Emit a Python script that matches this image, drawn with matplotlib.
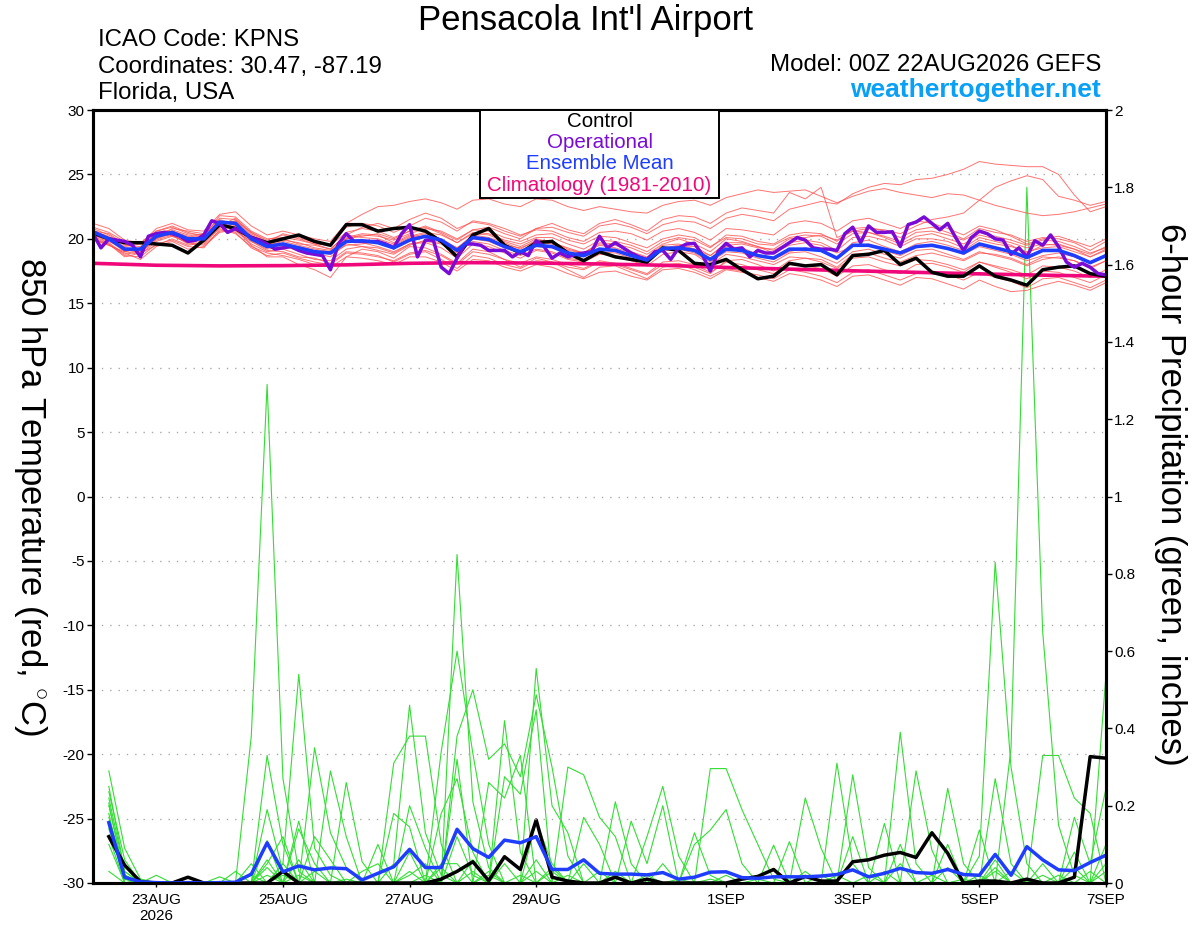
import matplotlib
matplotlib.use("Agg")
import matplotlib.pyplot as plt
from matplotlib.patches import Rectangle
import pandas as pd

plt.rcParams['font.family'] = ['Liberation Sans', 'DejaVu Sans']
plt.rcParams['axes.unicode_minus'] = False
plt.rcParams['mathtext.fontset'] = 'custom'
plt.rcParams['mathtext.rm'] = 'Liberation Sans'

# ---- time axes (GEFS 00Z 22AUG2026 run) ----
t_temp = pd.date_range('2026-08-22 00:00', periods=65, freq='6h')
t_oper = pd.date_range('2026-08-22 00:00', periods=129, freq='3h')
t_prcp = pd.date_range('2026-08-22 06:00', periods=64, freq='6h')
t_clim = pd.date_range('2026-08-22 00:00', periods=17, freq='1D')

# ---- 850 hPa temperature (C) ----
control_temp = [20.45, 20.0, 19.7, 19.7, 19.6, 19.5, 18.9, 19.9,
                21.1, 20.8, 20.1, 19.7, 20.0, 20.3, 19.8, 19.5,
                21.1, 21.1, 20.6, 20.8, 20.9, 20.6, 19.8, 18.6,
                20.3, 20.8, 19.5, 18.9, 19.7, 19.8, 18.9, 18.3,
                19.0, 18.6, 18.4, 18.2, 19.3, 19.1, 18.1, 18.0,
                18.4, 17.6, 16.9, 17.1, 18.1, 17.9, 18.0, 17.2,
                18.7, 18.8, 19.1, 18.0, 18.5, 17.4, 17.1, 17.1,
                17.9, 17.1, 16.8, 16.4, 17.6, 17.8, 17.9, 17.3,
                17.1]

oper_temp = [20.4, 19.3, 20.0, 19.9, 19.8, 19.5, 18.6, 20.2,
             20.4, 20.5, 20.4, 20.2, 19.8, 19.9, 20.3, 21.4,
             21.2, 20.5, 20.8, 20.5, 20.1, 19.9, 19.6, 19.2,
             19.3, 19.4, 19.1, 18.9, 18.8, 18.7, 17.6, 19.6,
             20.4, 19.8, 19.8, 19.8, 19.8, 19.6, 19.3, 20.4,
             21.1, 18.6, 19.9, 19.9, 17.8, 17.3, 18.5, 19.6,
             19.6, 19.5, 19.1, 19.1, 19.1, 18.6, 19.0, 18.7,
             19.85, 19.4, 18.5, 18.9, 18.6, 18.8, 18.9, 19.0,
             20.2, 19.3, 19.7, 19.3, 18.9, 18.6, 18.4, 19.0,
             19.1, 18.4, 19.3, 19.6, 19.65, 18.75, 17.5, 19.0,
             19.65, 19.2, 19.3, 18.6, 19.1, 18.9, 18.9, 19.3,
             19.7, 20.1, 19.9, 19.3, 19.2, 19.2, 19.1, 20.4,
             20.9, 19.7, 21.0, 20.5, 20.5, 20.55, 19.4, 21.1,
             21.3, 21.7, 21.2, 20.7, 21.2, 20.1, 19.1, 20.1,
             20.6, 20.4, 20.0, 19.9, 18.8, 19.3, 18.6, 19.85,
             19.5, 20.3, 19.4, 18.2, 17.8, 18.1, 17.8, 17.3,
             17.2]

mean_temp = [20.55, 20.0, 19.2, 19.2, 20.2, 20.5, 20.0, 20.0, 21.3, 21.2,
             20.0, 19.4, 19.6, 19.3, 19.0, 18.9, 19.8, 19.85, 19.7, 19.3,
             19.9, 20.2, 19.9, 19.1, 20.1, 19.95, 19.4, 19.0, 19.5, 19.4,
             18.9, 18.7, 19.2, 19.1, 18.7, 18.35, 19.25, 19.3, 19.1, 18.4,
             19.2, 19.1, 18.7, 18.5, 19.2, 19.2, 19.1, 18.5, 19.5, 19.5,
             19.2, 18.9, 19.4, 19.5, 19.25, 18.9, 19.6, 19.3, 19.0, 18.55,
             19.1, 19.1, 18.7, 18.15, 18.7]

clim_temp = [18.1, 17.95, 17.9, 17.92, 17.98, 18.1, 18.15, 18.12, 18.05,
             17.95, 17.78, 17.65, 17.52, 17.4, 17.28, 17.18, 17.1]

# individual ensemble members (red)
red_members = [
    [20.8, 20.3, 19.5, 19.4, 20.6, 20.9, 20.4, 20.3, 21.6, 21.5, 20.5, 19.9,
     20.3, 20.0, 19.6, 19.5, 20.5, 20.8, 20.6, 20.1, 20.6, 21.0, 20.5, 19.9,
     20.7, 20.6, 20.1, 19.8, 20.3, 20.4, 19.9, 19.6, 20.2, 20.1, 19.7, 19.3,
     20.0, 20.3, 20.1, 19.4, 20.1, 20.0, 19.6, 19.5, 20.1, 20.3, 20.2, 19.6,
     20.4, 20.5, 20.2, 19.8, 20.5, 20.6, 20.3, 19.9, 20.5, 20.2, 19.9, 19.5,
     19.9, 19.8, 19.4, 18.9, 19.3],
    [20.1, 19.6, 18.7, 18.6, 19.6, 19.9, 19.4, 19.3, 20.7, 20.5, 19.3, 18.7,
     18.9, 18.5, 18.2, 18.0, 18.9, 18.8, 18.6, 18.3, 18.9, 19.1, 18.7, 18.0,
     19.0, 18.8, 18.4, 18.1, 18.6, 18.4, 18.0, 17.7, 18.3, 18.1, 17.7, 17.3,
     18.2, 18.3, 18.0, 17.4, 18.2, 18.0, 17.6, 17.3, 18.0, 17.9, 17.7, 17.1,
     17.9, 18.0, 17.6, 17.3, 18.0, 18.1, 17.8, 17.4, 18.2, 17.8, 17.4, 16.9,
     17.5, 17.4, 17.0, 16.6, 17.2],
    [20.4, 19.9, 19.3, 19.2, 20.0, 20.4, 19.9, 20.1, 21.0, 21.4, 20.5, 19.8,
     20.0, 19.6, 19.5, 19.2, 20.3, 20.9, 21.2, 20.8, 21.5, 22.0, 21.6, 20.8,
     21.3, 21.1, 20.6, 20.2, 20.8, 20.9, 20.5, 20.2, 21.0, 21.2, 20.9, 20.4,
     21.1, 21.4, 21.3, 20.8, 21.6, 21.9, 21.7, 21.4, 22.3, 22.6, 22.9, 22.7,
     23.5, 24.0, 24.3, 24.2, 24.6, 24.7, 25.0, 25.4, 26.0, 25.8, 25.7, 25.6,
     25.6, 25.0, 23.4, 22.1, 22.5],
    [20.6, 20.2, 19.0, 19.3, 20.4, 20.2, 19.8, 20.0, 21.2, 20.9, 19.8, 19.2,
     19.4, 19.1, 18.8, 18.9, 19.9, 19.7, 19.4, 19.0, 19.6, 19.8, 19.6, 18.9,
     20.0, 19.8, 19.3, 18.9, 19.4, 19.3, 18.8, 18.6, 19.1, 19.2, 18.8, 18.4,
     19.3, 19.5, 19.4, 18.7, 19.5, 19.6, 19.3, 19.2, 20.0, 20.1, 20.3, 19.9,
     20.6, 20.8, 20.7, 20.4, 21.0, 21.5, 21.7, 22.0, 23.0, 24.0, 24.5, 24.9,
     24.6, 23.3, 23.0, 22.6, 22.9],
    [20.3, 19.8, 19.2, 18.9, 20.0, 20.6, 20.2, 19.8, 21.1, 21.3, 20.2, 19.5,
     19.8, 19.5, 19.2, 19.0, 20.0, 20.3, 20.2, 19.9, 20.4, 20.8, 20.6, 20.0,
     20.7, 20.9, 20.4, 20.0, 20.8, 21.2, 20.7, 20.4, 21.2, 21.5, 21.1, 20.6,
     21.5, 21.8, 21.7, 21.2, 22.0, 22.4, 22.2, 22.0, 23.6, 23.1, 24.0, 20.1,
     20.6, 20.5, 20.1, 19.6, 20.2, 20.4, 20.0, 19.6, 20.3, 20.0, 19.7, 19.3,
     19.6, 19.5, 19.2, 18.8, 19.4],
    [20.9, 20.5, 19.8, 19.6, 20.8, 21.2, 20.7, 20.6, 21.9, 22.1, 21.0, 20.3,
     20.6, 20.3, 20.0, 19.8, 21.2, 21.9, 22.5, 22.6, 22.9, 23.1, 22.8, 22.3,
     23.0, 23.1, 22.7, 22.5, 23.1, 23.0, 22.5, 22.2, 22.5, 22.3, 22.1, 22.0,
     22.6, 22.9, 23.0, 22.6, 23.2, 23.5, 23.8, 23.6, 23.7, 23.8, 23.3, 22.8,
     23.3, 23.7, 23.9, 23.6, 23.4, 23.2, 23.5, 23.4, 23.0, 22.6, 22.3, 22.0,
     21.8, 21.9, 22.1, 22.4, 22.7],
    [20.0, 19.5, 18.9, 18.4, 19.4, 19.8, 19.2, 19.4, 20.5, 20.7, 19.5, 18.6,
     18.6, 18.0, 17.6, 17.0, 18.6, 19.2, 19.0, 18.5, 19.4, 19.3, 18.8, 18.1,
     19.2, 19.0, 18.4, 17.8, 18.5, 18.2, 17.6, 17.0, 17.8, 17.9, 17.4, 16.9,
     17.8, 18.0, 17.6, 17.1, 17.7, 17.5, 17.0, 16.7, 17.3, 17.1, 16.8, 16.3,
     17.1, 17.2, 16.8, 16.4, 17.0, 16.9, 16.5, 16.1, 16.8, 16.3, 15.9, 16.0,
     16.4, 16.7, 16.4, 16.0, 16.6],
    [20.5, 20.1, 19.4, 19.6, 20.3, 20.6, 20.1, 20.4, 21.5, 21.1, 19.9, 19.3,
     19.5, 19.2, 18.9, 18.6, 19.6, 19.4, 19.1, 18.8, 19.5, 19.9, 19.7, 19.2,
     20.2, 20.0, 19.5, 19.3, 19.8, 19.6, 19.1, 18.9, 19.6, 19.5, 19.0, 18.6,
     19.5, 19.6, 19.2, 18.5, 19.4, 19.3, 18.8, 18.4, 19.0, 19.3, 19.1, 18.6,
     19.7, 19.9, 19.4, 19.0, 19.6, 19.8, 19.5, 19.1, 19.9, 19.6, 19.4, 19.0,
     19.3, 19.4, 19.0, 18.6, 19.2],
    [20.2, 19.7, 18.8, 19.0, 19.9, 20.3, 19.6, 19.6, 20.9, 20.8, 19.6, 19.0,
     19.2, 18.8, 18.4, 18.3, 19.2, 19.4, 19.3, 18.9, 19.6, 19.7, 19.3, 18.5,
     19.6, 19.4, 18.9, 18.5, 19.1, 18.9, 18.4, 18.2, 18.8, 18.7, 18.3, 17.9,
     18.8, 19.0, 18.8, 18.0, 18.8, 18.6, 18.3, 18.0, 18.6, 18.5, 18.4, 17.8,
     18.8, 18.9, 18.5, 18.2, 18.7, 18.9, 18.6, 18.3, 18.9, 18.8, 18.5, 18.0,
     18.6, 18.5, 18.3, 17.8, 18.3],
    [20.7, 20.0, 19.1, 19.0, 20.1, 20.4, 19.9, 19.9, 21.4, 21.0, 19.9, 19.4,
     19.3, 19.4, 19.1, 18.8, 19.5, 19.6, 19.8, 19.5, 20.1, 20.4, 20.0, 19.3,
     20.3, 20.1, 19.7, 19.2, 19.9, 19.8, 19.2, 18.9, 19.7, 19.6, 19.3, 18.8,
     19.6, 20.0, 19.6, 19.0, 20.0, 19.8, 19.4, 19.1, 19.7, 19.9, 19.7, 19.1,
     20.1, 20.2, 19.9, 19.4, 20.0, 20.0, 19.8, 19.3, 20.1, 19.8, 19.5, 18.9,
     19.5, 19.6, 19.2, 18.6, 19.1],
    [19.9, 19.5, 19.0, 18.8, 19.8, 20.2, 19.7, 19.5, 20.6, 20.6, 19.8, 19.1,
     19.0, 18.6, 18.5, 18.1, 19.0, 18.9, 18.7, 18.2, 18.8, 19.0, 18.4, 17.7,
     18.7, 18.5, 18.0, 17.7, 18.3, 18.2, 17.8, 17.6, 18.2, 18.0, 17.6, 17.2,
     18.0, 18.1, 17.8, 17.3, 18.3, 18.4, 18.0, 17.5, 18.3, 18.5, 18.2, 17.7,
     18.5, 18.6, 18.2, 17.9, 18.4, 18.3, 18.0, 17.6, 18.2, 17.9, 17.6, 17.2,
     17.9, 17.8, 17.5, 17.0, 17.6],
    [21.2, 20.8, 19.9, 19.7, 20.6, 21.0, 20.5, 20.2, 21.8, 21.7, 20.6, 20.0,
     20.1, 19.9, 19.6, 19.2, 20.3, 20.1, 20.0, 19.6, 20.2, 20.5, 20.3, 19.7,
     20.5, 20.4, 19.9, 19.6, 20.1, 20.1, 19.6, 19.2, 19.9, 19.8, 19.5, 19.0,
     19.8, 20.1, 19.9, 19.3, 20.3, 20.2, 19.8, 19.6, 20.3, 20.5, 20.4, 19.8,
     20.8, 20.9, 20.6, 20.1, 20.7, 20.9, 20.5, 20.0, 20.8, 20.5, 20.3, 19.8,
     20.1, 20.0, 19.7, 19.1, 19.8],
    [20.4, 20.0, 19.3, 19.1, 20.5, 20.7, 20.3, 20.1, 21.0, 21.6, 20.4, 19.7,
     20.4, 20.1, 19.7, 19.5, 20.9, 21.2, 21.0, 20.5, 21.0, 21.6, 21.3, 20.6,
     21.4, 21.2, 20.8, 20.3, 20.7, 20.6, 20.1, 19.8, 20.5, 20.6, 20.4, 19.9,
     20.6, 20.8, 20.5, 19.9, 20.8, 20.7, 20.5, 20.3, 21.2, 21.4, 21.2, 20.6,
     21.4, 21.6, 21.2, 20.8, 21.4, 21.2, 20.8, 20.3, 21.0, 20.7, 20.2, 19.6,
     20.0, 20.2, 19.8, 19.4, 20.0],
    [20.0, 19.6, 18.6, 18.9, 19.5, 20.0, 19.5, 19.7, 20.8, 20.4, 19.4, 18.9,
     18.7, 18.4, 18.0, 17.8, 18.6, 18.5, 18.3, 18.0, 18.6, 18.6, 18.2, 17.5,
     18.4, 18.3, 17.8, 17.5, 18.0, 17.8, 17.3, 16.9, 17.4, 17.5, 17.1, 16.8,
     17.6, 17.7, 17.4, 16.9, 17.6, 17.4, 17.2, 16.9, 17.6, 17.4, 17.1, 16.6,
     17.4, 17.6, 17.2, 16.8, 17.3, 17.5, 17.2, 16.8, 17.4, 17.0, 16.7, 16.2,
     16.9, 17.0, 16.6, 16.2, 16.8],
    [20.6, 20.4, 19.6, 19.2, 20.1, 20.8, 20.6, 20.4, 21.2, 20.9, 20.1, 19.6,
     19.9, 19.7, 19.3, 19.1, 20.1, 20.4, 20.3, 19.7, 20.3, 20.1, 19.9, 19.3,
     19.8, 19.6, 19.1, 18.7, 19.2, 19.0, 18.5, 18.3, 19.0, 18.9, 18.5, 18.2,
     19.2, 19.4, 19.2, 18.7, 19.7, 19.7, 19.4, 18.9, 19.5, 19.7, 19.5, 18.9,
     19.4, 19.6, 19.1, 18.7, 19.3, 19.5, 19.2, 18.8, 19.4, 19.1, 18.8, 18.3,
     18.7, 18.9, 18.6, 18.1, 18.8],
    [20.3, 19.9, 19.0, 19.3, 20.3, 20.3, 19.7, 19.8, 21.1, 21.4, 20.3, 19.6,
     19.6, 19.3, 19.0, 18.9, 20.0, 20.2, 20.4, 20.0, 20.6, 20.9, 20.4, 19.7,
     20.4, 20.3, 19.8, 19.4, 20.0, 19.7, 19.3, 18.9, 19.5, 19.3, 18.9, 18.5,
     19.1, 19.2, 18.9, 18.2, 19.0, 18.9, 18.5, 18.2, 18.9, 19.0, 18.6, 18.1,
     19.0, 19.2, 18.8, 18.5, 19.1, 19.2, 18.8, 18.4, 19.0, 18.7, 18.4, 17.9,
     18.4, 18.6, 18.3, 17.7, 18.3],
]

# ---- 6-hour precipitation (inches) ----
control_prcp = [0.12, 0.046, 0.003, 0.0, 0.0, 0.015, 0.0, 0.0,
                0.0, 0.0, 0.0, 0.03, 0.0, 0.0, 0.0, 0.0,
                0.0, 0.0, 0.0, 0.0, 0.0, 0.01, 0.03, 0.055,
                0.006, 0.068, 0.035, 0.163, 0.015, 0.005, 0.0, 0.0,
                0.015, 0.0, 0.01, 0.0, 0.0, 0.0, 0.0, 0.0,
                0.01, 0.017, 0.035, 0.0, 0.017, 0.005, 0.005, 0.055,
                0.06, 0.072, 0.079, 0.066, 0.13, 0.077, 0.0, 0.005,
                0.005, 0.0, 0.01, 0.0, 0.0, 0.015, 0.327, 0.323]

mean_prcp = [0.156, 0.015, 0.003, 0.001, 0.0, 0.001, 0.0, 0.001,
             0.002, 0.023, 0.104, 0.029, 0.044, 0.034, 0.039, 0.037,
             0.008, 0.025, 0.042, 0.087, 0.04, 0.04, 0.139, 0.089,
             0.066, 0.111, 0.104, 0.12, 0.035, 0.035, 0.06, 0.025,
             0.023, 0.023, 0.021, 0.027, 0.01, 0.015, 0.028, 0.029,
             0.014, 0.012, 0.016, 0.016, 0.016, 0.018, 0.022, 0.034,
             0.016, 0.025, 0.038, 0.027, 0.025, 0.035, 0.022, 0.02,
             0.074, 0.02, 0.094, 0.06, 0.034, 0.032, 0.053, 0.072]

green_members = [
    [.29, .09, .01, 0, 0, 0, 0, 0, 0, .38, 1.29, .27, .03, 0, 0, 0,
     0, 0, 0, .08, 0, 0, .12, .02, 0, 0, 0, .16, .05, 0, 0, 0,
     0, 0, 0, .05, 0, 0, 0, 0, 0, 0, 0, 0, 0, 0, .31, .05,
     0, 0, 0, 0, 0, 0, 0, 0, .27, .05, 0, 0, 0, 0, 0, .1],
    [.236, .06, 0, 0, 0, 0, 0, 0, 0, 0, .33, .1, 0, 0, 0, 0,
     0, 0, .05, .46, .13, .02, 0, 0, 0, 0, 0, 0, 0, 0, 0, 0,
     .21, .05, 0, 0, 0, 0, 0, 0, 0, 0, 0, 0, 0, 0, 0, 0,
     0, 0, .39, .05, 0, 0, 0, 0, 0, .35, 1.8, .65, .15, .02, 0, 0],
    [.22, .03, 0, .02, 0, 0, 0, 0, 0, 0, 0, .05, .54, .09, .02, 0,
     0, 0, 0, 0, 0, 0, .85, .21, .04, 0, 0, 0, 0, 0, 0, 0,
     0, 0, 0, 0, 0, 0, .296, .296, .19, .1, .01, 0, 0, 0, 0, 0,
     0, 0, 0, 0, 0, 0, 0, .07, .83, .3, .05, 0, 0, 0, 0, 0],
    [.207, .01, 0, 0, 0, 0, 0, 0, 0, 0, .19, .03, 0, .35, .13, .04,
     0, 0, .31, .38, .38, .1, 0, 0, 0, .42, .08, 0, 0, 0, 0, 0,
     0, 0, .12, .25, .07, 0, 0, 0, 0, 0, 0, 0, 0, 0, 0, 0,
     0, 0, 0, 0, 0, .245, .05, 0, 0, 0, 0, 0, 0, 0, 0, .54],
    [.17, .02, 0, 0, 0, 0, 0, 0, 0, 0, .11, 0, .16, 0, .29, .12,
     0, .1, 0, 0, 0, .34, .6, .335, .1, 0, 0, .555, .2, .13, 0, 0,
     0, 0, 0, 0, 0, 0, 0, 0, 0, 0, 0, 0, .22, .09, 0, 0,
     0, 0, 0, 0, 0, 0, 0, 0, 0, 0, 0, .33, .33, .22, .18, 0],
    [.1, 0, 0, 0, 0, 0, 0, 0, 0, 0, .06, 0, .14, .05, 0, .26,
     .055, 0, 0, .2, .09, 0, .38, .5, .32, .36, .275, .487, .3, .07, 0, 0,
     0, 0, 0, 0, 0, .1, .137, .19, .05, 0, 0, 0, 0, 0, 0, 0,
     0, .154, 0, 0, 0, 0, 0, 0, 0, 0, 0, 0, 0, 0, 0, 0],
    [.03, 0, 0, 0, 0, 0, 0, .016, 0, 0, .05, .12, 0, .12, .06, 0,
     0, 0, .18, .145, 0, .18, .27, .08, 0, .275, .23, .448, 0, .3, .28, .17,
     .12, 0, 0, 0, 0, 0, 0, 0, 0, 0, 0, 0, 0, 0, 0, .28,
     .04, 0, 0, 0, 0, 0, 0, .137, 0, 0, 0, 0, 0, 0, 0, 0],
    [.15, .01, 0, 0, 0, 0, 0, 0, .03, 0, .02, 0, .06, 0, 0, 0,
     .03, .05, 0, 0, 0, 0, .32, 0, .26, .22, .33, 0, 0, 0, .17, .1,
     0, .16, .05, .2, 0, 0, 0, 0, 0, 0, 0, .107, 0, 0, 0, 0,
     0, 0, 0, .29, .085, 0, 0, 0, 0, 0, 0, 0, 0, .17, .05, .245],
    [.12, 0, 0, 0, 0, 0, 0, 0, 0, .05, 0, .05, 0, 0, 0, 0,
     0, 0, 0, .02, .05, 0, 0, .03, 0, 0, 0, 0, .04, 0, .05, 0,
     0, 0, 0, 0, 0, .13, .02, 0, 0, 0, .098, 0, 0, 0, 0, .12,
     0, 0, .1, 0, 0, .1, 0, 0, .04, 0, 0, 0, .02, 0, 0, .05],
    [.2, .02, 0, 0, 0, 0, 0, 0, 0, .02, 0, 0, 0, 0, 0, .01,
     0, 0, 0, 0, 0, .05, .05, 0, .03, 0, 0, .03, 0, 0, 0, 0,
     .02, 0, 0, 0, .01, 0, 0, 0, 0, 0, 0, 0, 0, .02, 0, 0,
     0, .03, 0, 0, 0, 0, .01, 0, .06, 0, 0, .02, 0, .08, 0, 0],
    [.18, 0, 0, 0, 0, 0, 0, 0, 0, 0, 0, 0, .02, 0, 0, 0,
     0, 0, 0, .03, 0, 0, 0, .06, 0, 0, .02, 0, 0, 0, 0, .03,
     0, 0, 0, 0, 0, 0, 0, .02, 0, 0, 0, 0, .03, 0, 0, 0,
     0, 0, 0, 0, .02, 0, 0, 0, .03, 0, 0, 0, 0, .04, 0, 0],
    [.14, .02, 0, 0, 0, 0, 0, 0, 0, 0, 0, .02, 0, 0, 0, 0,
     0, 0, 0, 0, .02, 0, 0, 0, 0, .05, 0, 0, .03, 0, 0, 0,
     0, 0, .02, 0, 0, 0, 0, 0, 0, .01, 0, 0, 0, 0, 0, 0,
     0, 0, .05, 0, 0, 0, 0, 0, 0, .03, 0, 0, 0, 0, .03, 0],
    [.25, .03, 0, 0, 0, 0, 0, 0, 0, 0, 0, 0, 0, .03, 0, 0,
     0, 0, 0, 0, 0, .04, 0, 0, 0, 0, 0, .06, 0, 0, 0, 0,
     .03, 0, 0, 0, 0, 0, 0, 0, 0, 0, 0, 0, 0, 0, .02, 0,
     0, 0, 0, 0, 0, .04, 0, 0, 0, 0, 0, .05, 0, 0, 0, 0],
    [.16, 0, .01, 0, 0, 0, 0, 0, 0, 0, .04, 0, 0, 0, 0, 0,
     0, 0, 0, 0, 0, 0, 0, 0, .02, 0, 0, 0, 0, .02, 0, 0,
     0, 0, 0, 0, 0, 0, .01, 0, 0, 0, 0, 0, 0, 0, 0, 0,
     .02, 0, 0, 0, 0, 0, 0, .02, 0, 0, 0, 0, 0, 0, 0, .03],
]

# tick labels
xtick_dates = ['2026-08-23', '2026-08-25', '2026-08-27', '2026-08-29',
               '2026-09-01', '2026-09-03', '2026-09-05', '2026-09-07']
xtick_labels = ['23AUG\n2026', '25AUG', '27AUG', '29AUG',
                '1SEP', '3SEP', '5SEP', '7SEP']
temp_ticks = list(range(-30, 31, 5))
prcp_ticks = [0, 0.2, 0.4, 0.6, 0.8, 1, 1.2, 1.4, 1.6, 1.8, 2]
prcp_labels = ['0', '0.2', '0.4', '0.6', '0.8', '1', '1.2', '1.4', '1.6', '1.8', '2']

RED = '#ff5050'
GREEN = '#33dd33'
PURPLE = '#7a0ad6'
BLUE = '#1f3dff'
PINK = '#f0087a'

W, H = 1200, 927
fig = plt.figure(figsize=(12, 9.27), dpi=100)
ax = fig.add_axes([93 / W, 1 - 883 / H, 1013 / W, 773 / H])
ax2 = ax.twinx()
ax.set_zorder(ax2.get_zorder() + 1)
ax.patch.set_visible(False)

# precipitation (behind)
for m in green_members:
    ax2.plot(t_prcp, m, color=GREEN, lw=0.8)
ax2.plot(t_prcp, control_prcp, color='black', lw=2.5)
ax2.plot(t_prcp, mean_prcp, color=BLUE, lw=2.5)
ax2.set_ylim(0, 2)
ax2.set_yticks(prcp_ticks)
ax2.set_yticklabels(prcp_labels)

# temperature
for m in red_members:
    ax.plot(t_temp, m, color=RED, lw=0.7, alpha=0.8)
ax.plot(t_clim, clim_temp, color=PINK, lw=2.6)
ax.plot(t_temp, control_temp, color='black', lw=2.5)
ax.plot(t_oper, oper_temp, color=PURPLE, lw=2.5)
ax.plot(t_temp, mean_temp, color=BLUE, lw=2.6)

ax.set_ylim(-30, 30)
ax.set_yticks(temp_ticks)
ax.set_xlim(pd.Timestamp('2026-08-22 00:00'), pd.Timestamp('2026-09-07 00:00'))
ax.set_xticks([pd.Timestamp(d) for d in xtick_dates])
ax.set_xticklabels(xtick_labels)
ax.yaxis.grid(True, color='#aaaaaa', linestyle=(0, (1, 5)), lw=1.0)

for a in (ax, ax2):
    for s in a.spines.values():
        s.set_linewidth(2.2)
    a.tick_params(axis='both', direction='out', length=4, width=1,
                  labelsize=11, pad=2)
ax.tick_params(axis='x', length=3, pad=4)

# legend box
ax.add_patch(Rectangle(((480 - 93) / 1013, (883 - 198) / 773),
                       (719 - 480) / 1013, 88 / 773, transform=ax.transAxes,
                       facecolor='white', edgecolor='black', lw=1.4, zorder=10))
leg_items = [('Control', 'black', 127), ('Operational', PURPLE, 148),
             ('Ensemble Mean', BLUE, 169), ('Climatology (1981-2010)', PINK, 191)]
for txt, col, yb in leg_items:
    fig.text(599.5 / W, 1 - yb / H, txt, color=col, fontsize=14.8,
             ha='center', va='baseline', zorder=11)

# header text
fig.text(585 / W, 1 - 30 / H, "Pensacola Int'l Airport", fontsize=25,
         ha='center', va='baseline')
fig.text(98 / W, 1 - 46 / H, 'ICAO Code: KPNS', fontsize=17.3, va='baseline')
fig.text(98 / W, 1 - 73 / H, 'Coordinates: 30.47, -87.19', fontsize=17.3, va='baseline')
fig.text(98 / W, 1 - 99 / H, 'Florida, USA', fontsize=17.3, va='baseline')
fig.text(1101 / W, 1 - 71 / H, 'Model: 00Z 22AUG2026 GEFS', fontsize=17.3,
         ha='right', va='baseline')
fig.text(1101 / W, 1 - 97 / H, 'weathertogether.net', fontsize=19,
         fontweight='bold', color='#0aa0f5', ha='right', va='baseline')

fig.text(30 / W, 1 - 496 / H, r'850 hPa Temperature (red, $^{\circ}$C)',
         fontsize=25, rotation=-90, ha='center', va='center')
fig.text(1170 / W, 1 - 494 / H, '6-hour Precipitation (green, inches)',
         fontsize=25, rotation=-90, ha='center', va='center')

fig.savefig('out.png', dpi=100)
